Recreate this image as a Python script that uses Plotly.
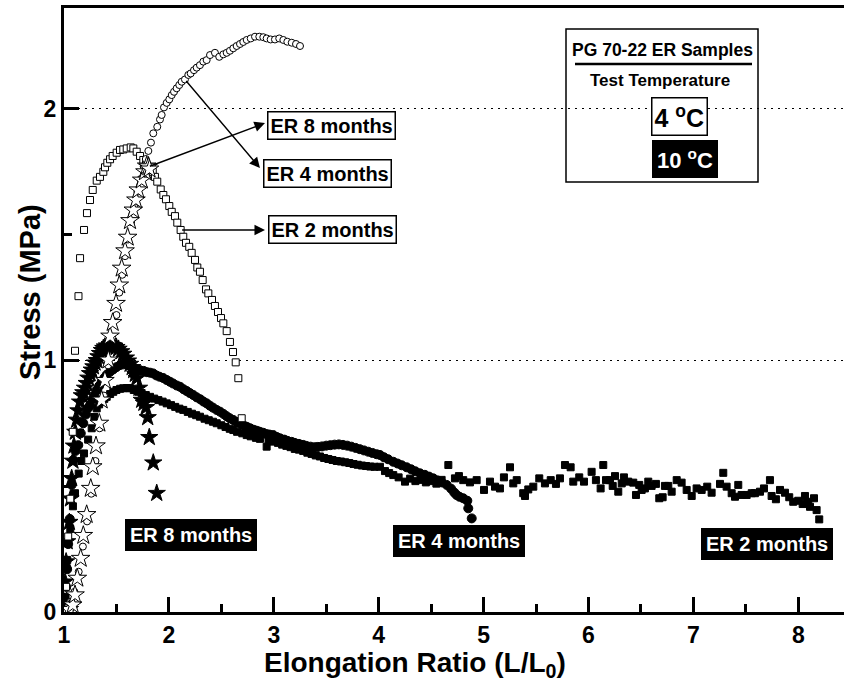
import plotly.graph_objects as go

# ---- 10 °C series (filled markers) ----
er2_10_x = [1.005, 1.015, 1.031, 1.06, 1.085, 1.105, 1.14, 1.165, 1.191, 1.23, 1.264, 1.29, 1.312, 1.335, 1.359,
            1.385, 1.407, 1.44, 1.47, 1.50, 1.535, 1.565, 1.60, 1.629, 1.665, 1.708, 1.74, 1.78, 1.82, 1.86,
            1.90, 1.94, 1.979, 2.02, 2.06, 2.10, 2.137, 2.18, 2.22, 2.26, 2.296, 2.34, 2.38, 2.42, 2.456,
            2.50, 2.54, 2.58, 2.614, 2.65, 2.70, 2.742, 2.78, 2.83, 2.868, 2.932, 2.95, 2.995, 3.04, 3.08,
            3.12, 3.16, 3.20, 3.24, 3.28, 3.32, 3.36, 3.40, 3.44, 3.48, 3.52, 3.56, 3.60, 3.64, 3.68,
            3.72, 3.76, 3.80, 3.84, 3.88, 3.92, 3.96, 4.012, 4.06, 4.10, 4.139, 4.19, 4.251, 4.30, 4.35,
            4.40, 4.45, 4.50, 4.55, 4.60, 4.664, 4.727, 4.765, 4.806, 4.87, 4.934, 5.004, 5.061, 5.109, 5.156,
            5.194, 5.252, 5.283, 5.316, 5.378, 5.395, 5.426, 5.474, 5.531, 5.585, 5.64, 5.69, 5.728, 5.776, 5.83,
            5.855, 5.912, 5.957, 6.03, 6.071, 6.116, 6.141, 6.167, 6.205, 6.231, 6.253, 6.284, 6.317, 6.338, 6.379,
            6.427, 6.453, 6.484, 6.507, 6.538, 6.57, 6.602, 6.643, 6.675, 6.707, 6.729, 6.761, 6.793, 6.841, 6.888,
            6.936, 6.984, 7.031, 7.079, 7.132, 7.174, 7.254, 7.285, 7.317, 7.365, 7.397, 7.428, 7.46, 7.508, 7.556,
            7.587, 7.635, 7.673, 7.73, 7.746, 7.787, 7.826, 7.873, 7.914, 7.952, 8.0, 8.042, 8.064, 8.095, 8.112,
            8.15, 8.175, 8.2]
er2_10_y = [0.02, 0.06, 0.207, 0.33, 0.42, 0.472, 0.55, 0.60, 0.63, 0.685, 0.73, 0.775, 0.809, 0.825, 0.836,
            0.847, 0.855, 0.866, 0.875, 0.882, 0.887, 0.889, 0.89, 0.889, 0.882, 0.875, 0.87, 0.862, 0.855, 0.848,
            0.842, 0.836, 0.829, 0.822, 0.815, 0.808, 0.803, 0.795, 0.788, 0.782, 0.776, 0.768, 0.762, 0.756, 0.75,
            0.742, 0.735, 0.728, 0.723, 0.716, 0.71, 0.703, 0.698, 0.692, 0.688, 0.657, 0.68, 0.677, 0.672, 0.665,
            0.66, 0.655, 0.648, 0.645, 0.64, 0.633, 0.628, 0.622, 0.618, 0.612, 0.608, 0.604, 0.60, 0.598, 0.595,
            0.592, 0.588, 0.585, 0.582, 0.58, 0.578, 0.577, 0.577, 0.56, 0.552, 0.544, 0.535, 0.518, 0.53, 0.52,
            0.525, 0.515, 0.52, 0.51, 0.525, 0.584, 0.531, 0.54, 0.524, 0.515, 0.524, 0.485, 0.518, 0.498, 0.491,
            0.535, 0.575, 0.511, 0.524, 0.472, 0.461, 0.487, 0.498, 0.531, 0.511, 0.524, 0.509, 0.531, 0.584, 0.575,
            0.518, 0.535, 0.518, 0.557, 0.524, 0.491, 0.584, 0.524, 0.524, 0.501, 0.54, 0.478, 0.511, 0.535, 0.518,
            0.514, 0.465, 0.505, 0.485, 0.491, 0.518, 0.501, 0.509, 0.452, 0.456, 0.501, 0.501, 0.478, 0.524, 0.514,
            0.485, 0.461, 0.491, 0.485, 0.498, 0.474, 0.509, 0.553, 0.498, 0.472, 0.458, 0.505, 0.465, 0.465, 0.472,
            0.472, 0.478, 0.491, 0.524, 0.461, 0.448, 0.485, 0.474, 0.456, 0.438, 0.442, 0.429, 0.461, 0.438, 0.418,
            0.452, 0.405, 0.368]

er4_10_x = [1.0, 1.01, 1.02, 1.03, 1.04, 1.055, 1.073, 1.089, 1.11, 1.136, 1.16, 1.184, 1.21, 1.23, 1.248,
            1.27, 1.29, 1.312, 1.335, 1.359, 1.385, 1.407, 1.44, 1.47, 1.50, 1.534, 1.565, 1.598, 1.62, 1.645,
            1.68, 1.725, 1.76, 1.79, 1.82, 1.85, 1.88, 1.91, 1.945, 1.979, 2.01, 2.04, 2.075, 2.106, 2.14,
            2.17, 2.20, 2.233, 2.265, 2.30, 2.33, 2.36, 2.39, 2.42, 2.455, 2.487, 2.52, 2.55, 2.58, 2.614,
            2.645, 2.68, 2.71, 2.742, 2.775, 2.81, 2.84, 2.868, 2.90, 2.93, 2.96, 2.995, 3.03, 3.06, 3.10,
            3.13, 3.17, 3.20, 3.24, 3.28, 3.31, 3.35, 3.39, 3.42, 3.46, 3.50, 3.54, 3.58, 3.62, 3.66,
            3.70, 3.74, 3.78, 3.82, 3.86, 3.90, 3.94, 3.98, 4.012, 4.05, 4.09, 4.139, 4.18, 4.22, 4.267,
            4.31, 4.35, 4.394, 4.44, 4.48, 4.521, 4.56, 4.60, 4.648, 4.69, 4.72, 4.743, 4.77, 4.806, 4.845,
            4.854, 4.887]
er4_10_y = [0.0, 0.04, 0.10, 0.17, 0.27, 0.37, 0.505, 0.604, 0.64, 0.663, 0.71, 0.75, 0.785, 0.81, 0.822,
            0.845, 0.862, 0.882, 0.898, 0.915, 0.93, 0.942, 0.955, 0.964, 0.973, 0.981, 0.984, 0.985, 0.98, 0.975,
            0.968, 0.961, 0.958, 0.953, 0.951, 0.948, 0.94, 0.935, 0.93, 0.922, 0.915, 0.908, 0.90, 0.895, 0.885,
            0.878, 0.87, 0.862, 0.853, 0.845, 0.836, 0.829, 0.82, 0.812, 0.803, 0.796, 0.787, 0.778, 0.77, 0.763,
            0.755, 0.748, 0.742, 0.736, 0.73, 0.724, 0.72, 0.716, 0.712, 0.707, 0.705, 0.703, 0.695, 0.69, 0.685,
            0.68, 0.676, 0.672, 0.668, 0.664, 0.66, 0.657, 0.655, 0.656, 0.658, 0.661, 0.663, 0.665, 0.666, 0.664,
            0.661, 0.657, 0.652, 0.647, 0.642, 0.637, 0.632, 0.627, 0.624, 0.615, 0.607, 0.597, 0.59, 0.583, 0.575,
            0.567, 0.559, 0.551, 0.545, 0.538, 0.531, 0.523, 0.515, 0.505, 0.49, 0.475, 0.465, 0.458, 0.452, 0.442,
            0.412, 0.372]

er8_10_x = [1.0, 1.005, 1.01, 1.02, 1.03, 1.051, 1.062, 1.073, 1.085, 1.095, 1.108, 1.121, 1.137, 1.153, 1.17,
            1.184, 1.20, 1.216, 1.232, 1.248, 1.264, 1.28, 1.296, 1.312, 1.328, 1.343, 1.36, 1.375, 1.39, 1.41,
            1.439, 1.46, 1.48, 1.50, 1.52, 1.545, 1.565, 1.59, 1.61, 1.63, 1.65, 1.665, 1.68, 1.693, 1.715,
            1.741, 1.762, 1.782, 1.798, 1.813, 1.851, 1.884]
er8_10_y = [0.0, 0.04, 0.12, 0.20, 0.28, 0.357, 0.45, 0.531, 0.60, 0.66, 0.715, 0.763, 0.80, 0.835, 0.86,
            0.872, 0.89, 0.909, 0.93, 0.948, 0.962, 0.975, 0.99, 1.0, 1.015, 1.028, 1.04, 1.048, 1.054, 1.058,
            1.061, 1.06, 1.057, 1.052, 1.045, 1.035, 1.025, 1.01, 0.998, 0.985, 0.972, 0.96, 0.945, 0.929, 0.89,
            0.842, 0.83, 0.813, 0.773, 0.694, 0.593, 0.472]

# ---- 4 °C series (open markers) ----
er2_4_x = [1.0, 1.02, 1.04, 1.06, 1.083, 1.105, 1.138, 1.153, 1.191, 1.219, 1.248, 1.274, 1.312, 1.343, 1.375,
           1.391, 1.413, 1.439, 1.464, 1.502, 1.534, 1.565, 1.598, 1.636, 1.661, 1.693, 1.725, 1.756, 1.782, 1.813,
           1.846, 1.867, 1.889, 1.922, 1.947, 1.972, 2.004, 2.027, 2.058, 2.08, 2.112, 2.137, 2.163, 2.194, 2.217,
           2.249, 2.271, 2.296, 2.322, 2.354, 2.376, 2.411, 2.439, 2.468, 2.497, 2.519, 2.551, 2.582, 2.611, 2.637,
           2.662, 2.694]
er2_4_y = [0.0, 0.1, 0.3, 0.45, 0.716, 1.038, 1.255, 1.406, 1.518, 1.585, 1.637, 1.677, 1.714, 1.729, 1.749,
           1.767, 1.785, 1.799, 1.812, 1.825, 1.836, 1.838, 1.842, 1.846, 1.842, 1.829, 1.812, 1.796, 1.783, 1.767,
           1.749, 1.729, 1.71, 1.679, 1.657, 1.64, 1.613, 1.59, 1.573, 1.547, 1.518, 1.491, 1.467, 1.451, 1.427,
           1.399, 1.369, 1.352, 1.319, 1.282, 1.266, 1.24, 1.216, 1.192, 1.168, 1.147, 1.116, 1.073, 1.033, 0.992,
           0.929, 0.77]

er4_4_x = [1.02, 1.06, 1.10, 1.14, 1.18, 1.22, 1.26, 1.30, 1.34, 1.38, 1.42, 1.46, 1.50, 1.527, 1.555,
           1.582, 1.61, 1.64, 1.67, 1.70, 1.73, 1.76, 1.78, 1.804, 1.829, 1.851, 1.889, 1.915, 1.931, 1.953,
           1.979, 2.004, 2.027, 2.049, 2.074, 2.099, 2.122, 2.153, 2.185, 2.208, 2.239, 2.265, 2.296, 2.328, 2.36,
           2.392, 2.439, 2.48, 2.519, 2.551, 2.582, 2.614, 2.646, 2.678, 2.709, 2.742, 2.78, 2.821, 2.862, 2.90,
           2.932, 2.97, 3.011, 3.052, 3.091, 3.129, 3.171, 3.212, 3.25]
er4_4_y = [0.01, 0.04, 0.08, 0.16, 0.26, 0.36, 0.47, 0.6, 0.73, 0.86, 0.98, 1.09, 1.18, 1.269, 1.34,
           1.414, 1.48, 1.55, 1.61, 1.67, 1.72, 1.77, 1.80, 1.832, 1.865, 1.902, 1.928, 1.957, 1.975, 2.005,
           2.023, 2.037, 2.054, 2.067, 2.081, 2.094, 2.107, 2.116, 2.134, 2.14, 2.153, 2.163, 2.173, 2.187, 2.193,
           2.213, 2.222, 2.206, 2.216, 2.222, 2.23, 2.24, 2.249, 2.257, 2.265, 2.273, 2.279, 2.286, 2.286, 2.284,
           2.279, 2.275, 2.275, 2.279, 2.273, 2.266, 2.262, 2.257, 2.249]

er8_4_x = [1.02, 1.05, 1.083, 1.105, 1.127, 1.159, 1.184, 1.216, 1.255, 1.274, 1.305, 1.337, 1.359, 1.39, 1.423,
           1.439, 1.464, 1.496, 1.527, 1.55, 1.582, 1.607, 1.629, 1.661, 1.686, 1.708, 1.741, 1.772, 1.788, 1.804,
           1.815]
er8_4_y = [0.0, 0.01, 0.028, 0.068, 0.134, 0.213, 0.304, 0.387, 0.491, 0.577, 0.66, 0.75, 0.842, 0.92, 1.001,
           1.096, 1.15, 1.226, 1.299, 1.366, 1.435, 1.489, 1.555, 1.597, 1.637, 1.677, 1.716, 1.749, 1.772, 1.769,
           1.76]

FONT = "Liberation Sans, Arial, sans-serif"

# plot-area geometry in pixels (left edge, bottom edge, width, height)
L, B, W, H = 64, 612, 780, 604


def px(xp, yp):
    """Convert page pixels to paper fractions of the plot area."""
    return (xp - L) / W, (B - yp) / H


fig = go.Figure()


def add_series(x, y, symbol, size, fill):
    fig.add_trace(go.Scatter(
        x=x, y=y, mode="markers", showlegend=False, cliponaxis=True,
        marker=dict(symbol=symbol, size=size, color=fill,
                    line=dict(color="black", width=1)),
    ))


add_series(er2_10_x, er2_10_y, "square", 7, "black")
add_series(er4_10_x, er4_10_y, "circle", 9, "black")
add_series(er8_10_x, er8_10_y, "star", 13, "black")
add_series(er2_4_x, er2_4_y, "square", 7, "white")
add_series(er4_4_x, er4_4_y, "circle", 7, "white")
add_series(er8_4_x, er8_4_y, "star", 14, "white")


def nearest(xs, ys, xv):
    i = min(range(len(xs)), key=lambda k: abs(xs[k] - xv))
    return xs[i], ys[i]


annotations = []

# arrows from the 4 °C curves to their labels
for (xs, ys, xv, head) in [
    (er8_4_x, er8_4_y, 1.804, (2.916, 1.943)),
    (er4_4_x, er4_4_y, 2.153, (2.868, 1.764)),
    (er2_4_x, er2_4_y, 2.112, (2.916, 1.518)),
]:
    tx, ty = nearest(xs, ys, xv)
    annotations.append(dict(
        x=head[0], y=head[1], ax=tx, ay=ty, xref="x", yref="y", axref="x", ayref="y",
        text="", showarrow=True, arrowhead=2, arrowsize=1.5, arrowwidth=1.4, arrowcolor="black",
    ))


def label(txt, cx, cy, size, color, bg, bw, pad, angle=0):
    xp, yp = px(cx, cy)
    d = dict(x=xp, y=yp, xref="paper", yref="paper", xanchor="center", yanchor="middle",
             text=txt, showarrow=False, textangle=angle,
             font=dict(family=FONT, size=size, color=color, weight="bold"))
    if bg is not None:
        d.update(bgcolor=bg, bordercolor="black", borderwidth=bw, borderpad=pad)
    annotations.append(d)


# boxed labels for the 4 °C curves
label("ER 8 months", 331, 125, 20, "black", "white", 1.5, 2)
label("ER 4 months", 327, 173, 20, "black", "white", 1.5, 2)
label("ER 2 months", 332, 229, 20, "black", "white", 1.5, 2)

# black labels for the 10 °C curves
label("ER 8 months", 191, 535, 20, "white", "black", 1, 4)
label("ER 4 months", 459, 541, 20, "white", "black", 1, 4)
label("ER 2 months", 767, 544, 20, "white", "black", 1, 4)

# key panel
label("PG 70-22 ER Samples", 662, 50, 17.5, "black", None, 0, 0)
label("Test Temperature", 660, 80, 17, "black", None, 0, 0)
label("4 <sup>o</sup>C", 679, 116, 25, "black", "white", 1.5, 2)
label("10 <sup>o</sup>C", 685, 159, 22, "white", "black", 1, 4)

# axis titles
label("Elongation Ratio (L/L<sub>0</sub>)", 415, 664, 28, "black", None, 0, 0)
label("Stress (MPa)", 30, 292, 29, "black", None, 0, 0, angle=-90)

bx0, by0 = px(566, 182)
bx1, by1 = px(758, 29)
ux0, uy = px(575, 64)
ux1, _ = px(752, 64)
shapes = [
    dict(type="rect", xref="paper", yref="paper", x0=bx0, x1=bx1, y0=by0, y1=by1,
         line=dict(color="black", width=1.5), fillcolor="rgba(0,0,0,0)"),
    dict(type="line", xref="paper", yref="paper", x0=ux0, x1=ux1, y0=uy, y1=uy,
         line=dict(color="black", width=2.5)),
]

fig.update_layout(
    width=844, height=683,
    margin=dict(l=L, r=844 - L - W, t=B - H, b=683 - B),
    paper_bgcolor="white", plot_bgcolor="white",
    font=dict(family=FONT, color="black", weight="bold"),
    annotations=annotations, shapes=shapes,
    xaxis=dict(
        range=[1, 8.436], tick0=1, dtick=1, ticks="inside", ticklen=15, tickwidth=2.5,
        tickcolor="black", showline=True, linewidth=3, linecolor="black", mirror=True,
        showgrid=False, zeroline=False,
        tickfont=dict(family=FONT, size=23, color="black", weight="bold"),
        minor=dict(dtick=0.5, tick0=1, ticks="inside", ticklen=8, tickwidth=2.5, tickcolor="black",
                   showgrid=False),
    ),
    yaxis=dict(
        range=[0, 2.4], tick0=0, dtick=1, ticks="inside", ticklen=15, tickwidth=2.5,
        tickcolor="black", showline=True, linewidth=3, linecolor="black", mirror=False,
        showgrid=True, gridcolor="black", gridwidth=1.2, griddash="2px,5px", zeroline=False,
        tickfont=dict(family=FONT, size=23, color="black", weight="bold"),
        minor=dict(dtick=0.5, tick0=0, ticks="inside", ticklen=8, tickwidth=2.5, tickcolor="black",
                   showgrid=False),
    ),
)

fig.write_html("out.html")
